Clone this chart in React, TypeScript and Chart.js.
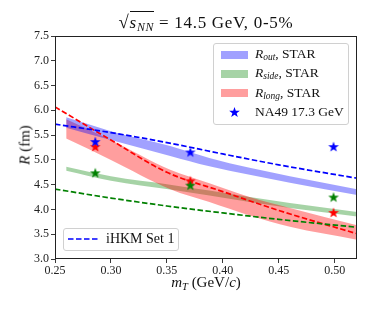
import React, { useEffect, useRef } from "react";
import { Chart, registerables } from "chart.js";
Chart.register(...registerables);

const X_MIN = 0.25;
const X_MAX = 0.52;
const Y_MIN = 3.0;
const Y_MAX = 7.5;
const X_TICKS = [0.25, 0.3, 0.35, 0.4, 0.45, 0.5];
const Y_TICKS = [3.0, 3.5, 4.0, 4.5, 5.0, 5.5, 6.0, 6.5, 7.0, 7.5];

// STAR bands (upper / lower edges)
const BAND_MT = [0.26, 0.3, 0.353, 0.388, 0.424, 0.46, 0.52];
const ROUT_HI = [5.86, 5.58, 5.28, 5.04, 4.84, 4.67, 4.41];
const ROUT_LO = [5.65, 5.4, 5.08, 4.87, 4.7, 4.54, 4.29];
const RSIDE_HI = [4.86, 4.67, 4.5, 4.38, 4.25, 4.13, 3.95];
const RSIDE_LO = [4.78, 4.58, 4.4, 4.28, 4.15, 4.03, 3.86];
const RLONG_HI = [5.82, 5.4, 4.8, 4.53, 4.25, 4.03, 3.68];
const RLONG_LO = [5.43, 5.0, 4.41, 4.15, 3.88, 3.65, 3.39];

// iHKM Set 1 curves
const IHKM_MT = [0.25, 0.3, 0.35, 0.4, 0.45, 0.52];
const IHKM_ROUT = [5.72, 5.55, 5.35, 5.12, 4.9, 4.63];
const IHKM_RSIDE = [4.41, 4.23, 4.07, 3.93, 3.8, 3.64];
const IHKM_RLONG = [6.07, 5.4, 4.75, 4.36, 3.98, 3.51];

// NA49 17.3 GeV points
const NA49_MT = [0.286, 0.371, 0.499];
const NA49_ROUT = [5.36, 5.15, 5.26];
const NA49_RSIDE = [4.73, 4.48, 4.24];
const NA49_RLONG = [5.26, 4.57, 3.93];

const BLUE = "#0000ff";
const GREEN = "#008000";
const RED = "#ff0000";
const SERIF = '"Liberation Serif", "DejaVu Serif", serif';

function starPath(cx: number, cy: number, r: number): [number, number][] {
  const pts: [number, number][] = [];
  for (let i = 0; i < 10; i++) {
    const rad = i % 2 === 0 ? r : r * 0.4;
    const a = -Math.PI / 2 + (i * Math.PI) / 5;
    pts.push([cx + rad * Math.cos(a), cy + rad * Math.sin(a)]);
  }
  return pts;
}

function makeStar(color: string, r: number): HTMLCanvasElement {
  const size = Math.ceil(2 * r + 2);
  const c = document.createElement("canvas");
  c.width = size;
  c.height = size;
  const ctx = c.getContext("2d")!;
  ctx.fillStyle = color;
  ctx.beginPath();
  starPath(size / 2, size / 2, r).forEach(([x, y], i) => (i === 0 ? ctx.moveTo(x, y) : ctx.lineTo(x, y)));
  ctx.closePath();
  ctx.fill();
  return c;
}

const zip = (xs: number[], ys: number[]) => xs.map((x, i) => ({ x, y: ys[i] }));

const framePlugin = {
  id: "frame",
  afterDraw(chart: any) {
    const { ctx, chartArea: a } = chart;
    ctx.save();
    ctx.strokeStyle = "#222";
    ctx.lineWidth = 1;
    ctx.strokeRect(a.left + 0.5, a.top + 0.5, a.right - a.left - 1, a.bottom - a.top - 1);
    ctx.restore();
  },
};

function LegendStar({ color }: { color: string }) {
  const pts = starPath(6.5, 6.5, 5.6).map((p) => p.join(",")).join(" ");
  return (
    <svg width={13} height={13} style={{ display: "block" }}>
      <polygon points={pts} fill={color} />
    </svg>
  );
}

export default function App() {
  const ref = useRef<HTMLCanvasElement | null>(null);
  useEffect(() => {
    if (!ref.current) return;
    const starB = makeStar(BLUE, 5.6);
    const starG = makeStar(GREEN, 5.6);
    const starR = makeStar(RED, 5.6);
    const starDs = (data: number[], img: HTMLCanvasElement, color: string) => ({
      data: zip(NA49_MT, data),
      showLine: false,
      pointStyle: img,
      pointRadius: 5,
      borderColor: color,
      backgroundColor: color,
      fill: false,
    });
    const dashDs = (data: number[], color: string) => ({
      data: zip(IHKM_MT, data),
      borderColor: color,
      borderWidth: 1.7,
      borderDash: [5.5, 2.5],
      pointRadius: 0,
      fill: false,
      cubicInterpolationMode: "monotone",
    });
    const bandHi = (data: number[], color: string) => ({
      data: zip(BAND_MT, data),
      borderWidth: 0,
      pointRadius: 0,
      fill: "+1",
      backgroundColor: color,
      cubicInterpolationMode: "monotone",
    });
    const bandLo = (data: number[]) => ({
      data: zip(BAND_MT, data),
      borderWidth: 0,
      pointRadius: 0,
      fill: false,
      cubicInterpolationMode: "monotone",
    });
    const chart = new Chart(ref.current, {
      type: "line",
      data: {
        datasets: [
          starDs(NA49_ROUT, starB, BLUE),
          starDs(NA49_RSIDE, starG, GREEN),
          starDs(NA49_RLONG, starR, RED),
          dashDs(IHKM_ROUT, BLUE),
          dashDs(IHKM_RSIDE, GREEN),
          dashDs(IHKM_RLONG, RED),
          bandHi(ROUT_HI, "rgba(0,0,255,0.37)"),
          bandLo(ROUT_LO),
          bandHi(RLONG_HI, "rgba(255,0,0,0.38)"),
          bandLo(RLONG_LO),
          bandHi(RSIDE_HI, "rgba(0,128,0,0.35)"),
          bandLo(RSIDE_LO),
        ] as any,
      },
      options: {
        animation: false,
        responsive: false,
        devicePixelRatio: 1,
        layout: { padding: { left: 0, top: 36, right: 16, bottom: 0 } },
        plugins: { legend: { display: false }, tooltip: { enabled: false } },
        scales: {
          x: {
            type: "linear",
            min: X_MIN,
            max: X_MAX,
            afterBuildTicks: (s: any) => {
              s.ticks = X_TICKS.map((v) => ({ value: v }));
            },
            afterFit: (s: any) => {
              s.height = 50;
            },
            ticks: {
              callback: (v: any) => Number(v).toFixed(2),
              font: { family: SERIF, size: 12 },
              color: "#222",
              padding: 1,
              maxRotation: 0,
            },
            grid: { drawOnChartArea: false, drawTicks: true, tickLength: 4, color: "#222", lineWidth: 0.9 },
            border: { display: false },
          },
          y: {
            type: "linear",
            min: Y_MIN,
            max: Y_MAX,
            afterBuildTicks: (s: any) => {
              s.ticks = Y_TICKS.map((v) => ({ value: v }));
            },
            afterFit: (s: any) => {
              s.width = 55;
            },
            ticks: {
              callback: (v: any) => Number(v).toFixed(1),
              font: { family: SERIF, size: 12 },
              color: "#222",
              padding: 2,
            },
            grid: { drawOnChartArea: false, drawTicks: true, tickLength: 4, color: "#222", lineWidth: 0.9 },
            border: { display: false },
          },
        },
      } as any,
      plugins: [framePlugin],
    });
    return () => chart.destroy();
  }, []);

  const legendRow = (icon: React.ReactNode, label: React.ReactNode, top: number) => (
    <div style={{ position: "absolute", left: 0, top, height: 19, width: "100%", display: "flex", alignItems: "center" }}>
      <div style={{ width: 41, display: "flex", justifyContent: "center" }}>{icon}</div>
      <div style={{ whiteSpace: "nowrap" }}>{label}</div>
    </div>
  );
  const swatch = (color: string) => <div style={{ width: 27, height: 8, background: color }} />;
  const R = (sub: string) => (
    <span>
      <i>R</i>
      <sub style={{ fontSize: "0.7em", fontStyle: "italic", verticalAlign: "-0.25em" }}>{sub}</sub>, STAR
    </span>
  );

  return (
    <div style={{ position: "fixed", left: 0, top: 0, width: 373, height: 309, background: "#fff", fontFamily: SERIF, color: "#111" }}>
      <canvas ref={ref} width={373} height={309} style={{ position: "absolute", left: 0, top: 0 }} />
      {/* title */}
      <div style={{ position: "absolute", left: 40, width: 332, top: 11, textAlign: "center", fontSize: 17, whiteSpace: "nowrap", lineHeight: "22px", letterSpacing: "0.7px" }}>
        <span style={{ fontSize: "1.1em" }}>√</span>
        <span style={{ borderTop: "1px solid #111", fontStyle: "italic", paddingTop: 1 }}>
          s<sub style={{ fontSize: "0.7em", verticalAlign: "-0.25em" }}>NN</sub>
        </span>
        {" = 14.5 GeV, 0-5%"}
      </div>
      {/* y label */}
      <div style={{ position: "absolute", left: 25, top: 145, transform: "translate(-50%,-50%) rotate(-90deg)", fontSize: 15, whiteSpace: "nowrap" }}>
        <i>R</i> (fm)
      </div>
      {/* x label */}
      <div style={{ position: "absolute", left: 55, width: 302, top: 274, textAlign: "center", fontSize: 15, whiteSpace: "nowrap", lineHeight: "17px" }}>
        <i>m</i>
        <sub style={{ fontSize: "0.7em", fontStyle: "italic", verticalAlign: "-0.25em" }}>T</sub> (GeV/<i>c</i>)
      </div>
      {/* upper-right legend */}
      <div style={{ position: "absolute", left: 213, top: 43, width: 136, height: 82, border: "1px solid #d0d0d0", borderRadius: 3, background: "rgba(255,255,255,0.85)", boxSizing: "border-box", fontSize: 13.5 }}>
        {legendRow(swatch("rgba(0,0,255,0.37)"), R("out"), 1)}
        {legendRow(swatch("rgba(0,128,0,0.35)"), R("side"), 20)}
        {legendRow(swatch("rgba(255,0,0,0.38)"), R("long"), 39.5)}
        {legendRow(<LegendStar color={BLUE} />, "NA49 17.3 GeV", 58.5)}
      </div>
      {/* lower-left legend */}
      <div style={{ position: "absolute", left: 63, top: 228, width: 116, height: 23, border: "1px solid #d0d0d0", borderRadius: 3, background: "rgba(255,255,255,0.85)", boxSizing: "border-box", fontSize: 14 }}>
        <svg width={32} height={4} style={{ position: "absolute", left: 4, top: 8 }}>
          <line x1={0} y1={2} x2={30} y2={2} stroke={BLUE} strokeWidth={1.7} strokeDasharray="5.5 2.5" />
        </svg>
        <div style={{ position: "absolute", left: 42, top: 1, whiteSpace: "nowrap", lineHeight: "18px" }}>iHKM Set 1</div>
      </div>
    </div>
  );
}
